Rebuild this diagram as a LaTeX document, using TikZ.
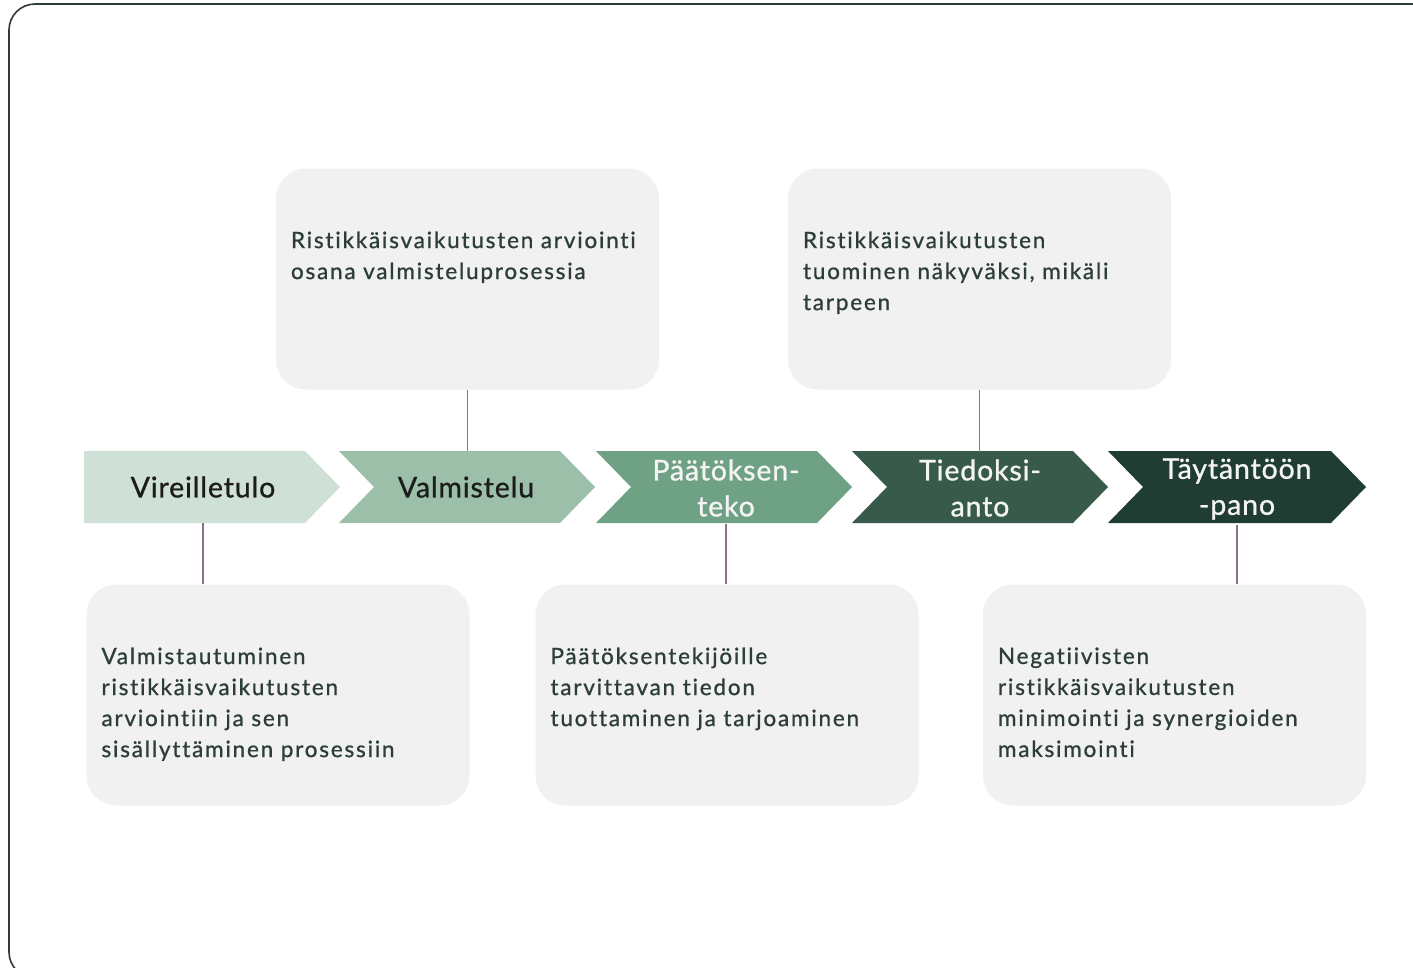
\documentclass[tikz,border=0pt]{standalone}
\usepackage{fontspec}
\setmainfont{Lato}
\newfontfamily\boxfont[FakeBold=0.9, LetterSpace=8, Ligatures=NoCommon]{Lato}
\newfontfamily\chevfont[FakeBold=0.9, LetterSpace=3]{Lato}
\usetikzlibrary{positioning,calc}
\definecolor{frameclr}{HTML}{2E3B38}
\definecolor{boxfill}{HTML}{F1F1F1}
\definecolor{boxtext}{HTML}{2C3E36}
\definecolor{linkclr}{HTML}{8B738B}
\definecolor{chA}{HTML}{CFE0D6}
\definecolor{chB}{HTML}{9BBFA9}
\definecolor{chC}{HTML}{6FA184}
\definecolor{chD}{HTML}{375A4A}
\definecolor{chE}{HTML}{1F3D33}
\definecolor{darklbl}{HTML}{1C1C1C}
\definecolor{lightlbl}{HTML}{F4F4F4}
\tikzset{
  infobox/.style={draw=none, fill=boxfill, rounded corners=30pt, minimum width=383pt, minimum height=221pt, inner sep=0pt},
  infotext/.style={anchor=north west, inner sep=0pt, align=left, text=boxtext, font=\boxfont\fontsize{22.5}{31}\selectfont},
  chevlabel/.style={inner sep=0pt, minimum height=72pt, minimum width=150pt, align=center, font=\chevfont\fontsize{28.5}{36}\selectfont},
  link/.style={draw=linkclr, line width=1.5pt},
}
\begin{document}
\begin{tikzpicture}[x=1pt,y=-1pt]
\useasboundingbox (0,0) rectangle (1413,967);
\begin{scope}
\clip (0,0) rectangle (1413,967);
\fill[white] (0,0) rectangle (1413,967);
\draw[frameclr, line width=1.6pt, rounded corners=26pt] (9,4) rectangle (1438,978);
\end{scope}

% chevrons
\fill[chA] (84,451) -- (305,451) -- (340,487) -- (305,523) -- (84,523) -- cycle;
\fill[chB] (339,451) -- (560,451) -- (595,487) -- (560,523) -- (339,523) -- (374,487) -- cycle;
\fill[chC] (596,451) -- (817,451) -- (852,487) -- (817,523) -- (596,523) -- (631,487) -- cycle;
\fill[chD] (852,451) -- (1073,451) -- (1108,487) -- (1073,523) -- (852,523) -- (887,487) -- cycle;
\fill[chE] (1108,451) -- (1331,451) -- (1366,487) -- (1331,523) -- (1108,523) -- (1143,487) -- cycle;

\node[chevlabel, text=darklbl] (c1) at (203,487) {Vireilletulo};
\node[chevlabel, text=darklbl] (c2) at (466,487) {Valmistelu};
\node[chevlabel, text=lightlbl] (c3) at (726,488) {Päätöksen-\\teko};
\node[chevlabel, text=lightlbl] (c4) at (980,488) {Tiedoksi-\\anto};
\node[chevlabel, text=lightlbl] (c5) at (1237,489) {Täytäntöön\\-pano};

% boxes
\node[infobox] (t1) at (467.5,279) {};
\node[infobox] (t2) at (979.5,279) {};
\node[infobox] (b1) at (278,695) {};
\node[infobox] (b2) at (727,695) {};
\node[infobox] (b3) at (1174.5,695) {};

\node[infotext] (t1txt) at ($(t1.north west)+(15,63)$) {Ristikkäisvaikutusten arviointi\\osana valmisteluprosessia};
\node[infotext] (t2txt) at ($(t2.north west)+(15,63)$) {Ristikkäisvaikutusten\\tuominen näkyväksi, mikäli\\tarpeen};
\node[infotext] (b1txt) at ($(b1.north west)+(15,63)$) {Valmistautuminen\\ristikkäisvaikutusten\\arviointiin ja sen\\sisällyttäminen prosessiin};
\node[infotext] (b2txt) at ($(b2.north west)+(15,63)$) {Päätöksentekijöille\\tarvittavan tiedon\\tuottaminen ja tarjoaminen};
\node[infotext] (b3txt) at ($(b3.north west)+(15,63)$) {Negatiivisten\\ristikkäisvaikutusten\\minimointi ja synergioiden\\maksimointi};

% connectors
\draw[link] (t1.south) -- (t1.south |- c2.north);
\draw[link] (t2.south) -- (t2.south |- c4.north);
\draw[link] (c1.south) -- (c1.south |- b1.north);
\draw[link] (c3.south) -- (c3.south |- b2.north);
\draw[link] (c5.south) -- (c5.south |- b3.north);
\end{tikzpicture}
\end{document}
